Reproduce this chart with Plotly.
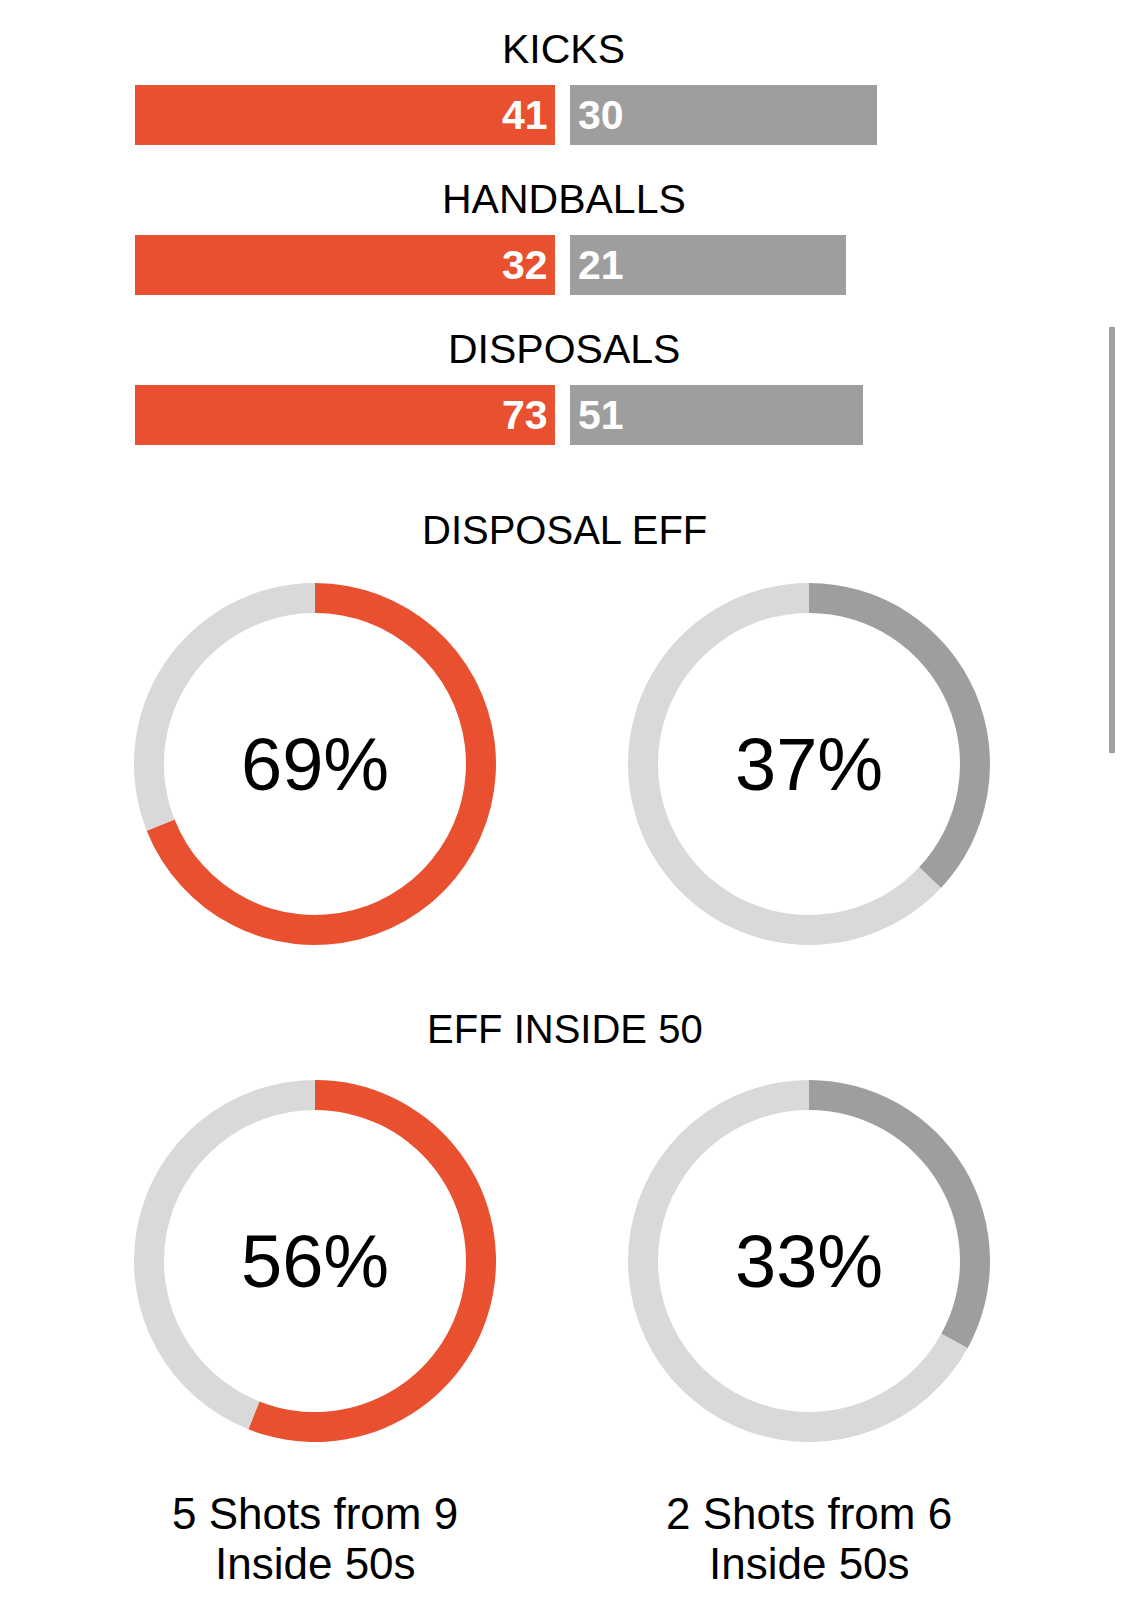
import plotly.graph_objects as go

W, H = 1125, 1608

# bar stats (home = red, away = grey)
stat_names = ["KICKS", "HANDBALLS", "DISPOSALS"]
home_stats = [41, 32, 73]
away_stats = [30, 21, 51]

# efficiency rings
ring_titles = ["DISPOSAL EFF", "EFF INSIDE 50"]
home_eff = [69, 56]
away_eff = [37, 33]

# shots from inside 50 entries
shots = [5, 2]
entries = [9, 6]

RED = "#E8502F"
GREY = "#9E9E9E"
LIGHT = "#D9D9D9"
FONT = "Liberation Sans, Arial, Helvetica, sans-serif"


def px(x):
    return x / W


def py(y):
    return 1 - y / H


# each row is scaled to its own larger value
row_max = [max(h, a) for h, a in zip(home_stats, away_stats)]
home_norm = [h / m for h, m in zip(home_stats, row_max)]
away_norm = [a / m for a, m in zip(away_stats, row_max)]

# pixel layout of the bar block
center_px = 562.5
unit_px = 420.0
gap = 7.5 / unit_px
row0_px, row_step = 115.0, 150.0
bar_block_bottom = 480.0

fig = go.Figure()

fig.add_trace(go.Bar(
    y=list(range(len(stat_names))), x=[-v for v in home_norm], base=-gap,
    orientation="h", marker=dict(color=RED, line=dict(width=0)),
    width=60 / row_step, hoverinfo="skip", showlegend=False,
))
fig.add_trace(go.Bar(
    y=list(range(len(stat_names))), x=away_norm, base=gap,
    orientation="h", marker=dict(color=GREY, line=dict(width=0)),
    width=60 / row_step, hoverinfo="skip", showlegend=False,
))

annotations = []
for i, name in enumerate(stat_names):
    annotations.append(dict(
        x=0, y=i, xref="x", yref="y", text=name, showarrow=False,
        xanchor="center", yanchor="middle", yshift=66, xshift=1,
        font=dict(family=FONT, size=41, color="#000"),
    ))
    annotations.append(dict(
        x=-gap, y=i, xref="x", yref="y", text="<b>%d</b>" % home_stats[i],
        showarrow=False, xanchor="right", yanchor="middle", xshift=-5,
        font=dict(family=FONT, size=41, color="white"),
    ))
    annotations.append(dict(
        x=gap, y=i, xref="x", yref="y", text="<b>%d</b>" % away_stats[i],
        showarrow=False, xanchor="left", yanchor="middle", xshift=6,
        font=dict(family=FONT, size=41, color="white"),
    ))

# rings
ring_cx = [315.0, 809.0]
ring_cy = [764.0, 1261.0]
title_cy = [529.5, 1028.5]
R = 181.0

for r in range(2):
    annotations.append(dict(
        x=px(center_px + 2), y=py(title_cy[r]), xref="paper", yref="paper",
        text=ring_titles[r], showarrow=False, xanchor="center", yanchor="middle",
        font=dict(family=FONT, size=40, color="#000"),
    ))
    for c, (vals, col) in enumerate([(home_eff, RED), (away_eff, GREY)]):
        v = vals[r]
        cx, cy = ring_cx[c], ring_cy[r]
        fig.add_trace(go.Pie(
            values=[v, 100 - v], marker=dict(colors=[col, LIGHT], line=dict(width=0)),
            hole=151 / 181, sort=False, direction="clockwise", rotation=0,
            textinfo="none", hoverinfo="skip", showlegend=False,
            domain=dict(x=[px(cx - R), px(cx + R)], y=[py(cy + R), py(cy - R)]),
        ))
        annotations.append(dict(
            x=px(cx), y=py(cy), xref="paper", yref="paper", text="%d%%" % v,
            showarrow=False, xanchor="center", yanchor="middle",
            font=dict(family=FONT, size=74, color="#000"),
        ))

for c in range(2):
    annotations.append(dict(
        x=px(ring_cx[c]), y=py(1513), xref="paper", yref="paper",
        text="%d Shots from %d" % (shots[c], entries[c]), showarrow=False,
        xanchor="center", yanchor="middle",
        font=dict(family=FONT, size=44, color="#000"),
    ))
    annotations.append(dict(
        x=px(ring_cx[c]), y=py(1563), xref="paper", yref="paper",
        text="Inside 50s", showarrow=False, xanchor="center", yanchor="middle",
        font=dict(family=FONT, size=44, color="#000"),
    ))

fig.update_layout(
    width=W, height=H,
    margin=dict(l=0, r=0, t=0, b=0),
    paper_bgcolor="white", plot_bgcolor="white",
    barmode="overlay", bargap=0,
    xaxis=dict(range=[-center_px / unit_px, (W - center_px) / unit_px],
               visible=False, fixedrange=True, domain=[0, 1]),
    yaxis=dict(range=[(bar_block_bottom - row0_px) / row_step, -row0_px / row_step],
               visible=False, fixedrange=True, domain=[py(bar_block_bottom), 1]),
    annotations=annotations,
    shapes=[dict(type="line", xref="paper", yref="paper",
                 x0=px(1112), x1=px(1112), y0=py(327), y1=py(753),
                 line=dict(color="#A0A0A0", width=6))],
)

# drop the default page margin so the figure sits flush in the window
fig.write_html("out.html", config={"displayModeBar": False},
               post_script="document.body.style.margin='0px';")
